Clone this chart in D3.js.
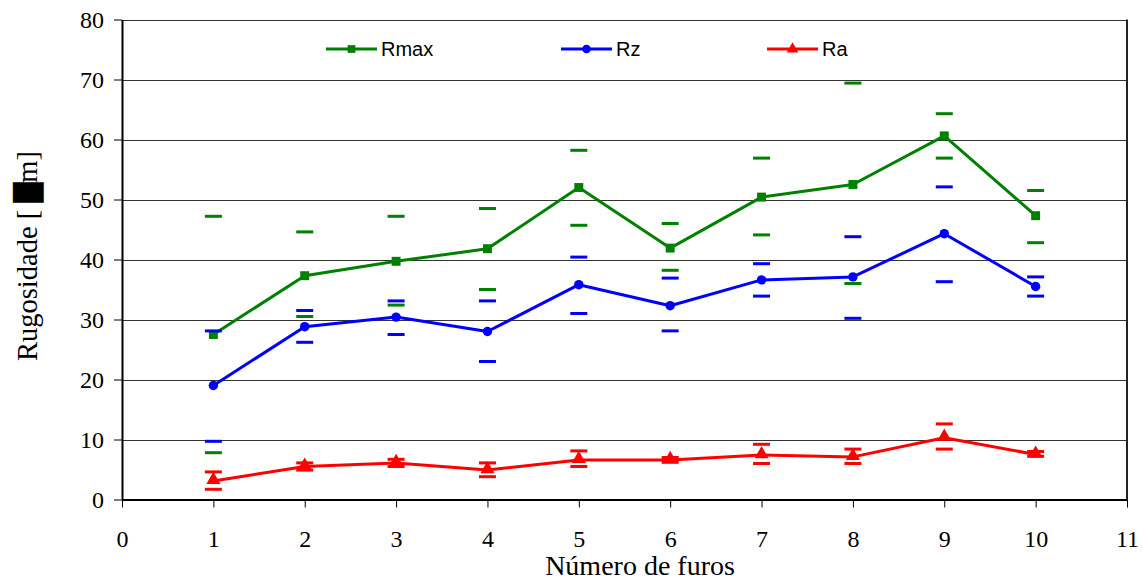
<!DOCTYPE html>
<html>
<head>
<meta charset="utf-8">
<script src="https://cdn.jsdelivr.net/npm/d3@7"></script>
<style>
  body { margin: 0; background: #fff; }
  svg { display: block; }
</style>
</head>
<body>
<svg id="chart" width="1143" height="581"></svg>
<script>
// ---- Data ----
const holes   = [1, 2, 3, 4, 5, 6, 7, 8, 9, 10];
const rmax    = [27.5, 37.3, 39.7, 41.8, 52.0, 41.9, 50.4, 52.5, 60.6, 47.3];
const rmaxHi  = [47.2, 44.6, 47.2, 48.5, 58.2, 46.0, 56.9, 69.4, 64.3, 51.5];
const rmaxLo  = [7.8, 30.5, 32.4, 35.0, 45.7, 38.2, 44.1, 36.0, 56.9, 42.8];
const rz      = [19.0, 28.8, 30.4, 28.0, 35.8, 32.3, 36.6, 37.1, 44.3, 35.5];
const rzHi    = [28.1, 31.5, 33.1, 33.1, 40.4, 36.9, 39.3, 43.8, 52.1, 37.1];
const rzLo    = [9.7, 26.2, 27.5, 23.0, 31.0, 28.1, 33.9, 30.2, 36.3, 33.9];
const ra      = [3.1, 5.5, 6.1, 4.9, 6.6, 6.6, 7.4, 7.1, 10.3, 7.5];
const raHi    = [4.6, 6.1, 6.7, 6.1, 8.1, 7.0, 9.2, 8.4, 12.6, 8.0];
const raLo    = [1.7, 4.9, 5.5, 3.8, 5.5, 6.2, 6.0, 6.0, 8.4, 7.2];
const seriesNames = ["Rmax", "Rz", "Ra"];
const xTicks = [0, 1, 2, 3, 4, 5, 6, 7, 8, 9, 10, 11];
const yTicks = [0, 10, 20, 30, 40, 50, 60, 70, 80];
const xTitle = "Número de furos";
const yTitleA = "Rugosidade [ ";
const yTitleB = "\u2588";
const yTitleC = "m]";

// ---- Layout ----
const svg = d3.select("#chart");
const pLeft = 122, pRight = 1127, pTop = 19.5, pBottom = 499.5;
const x = d3.scaleLinear().domain([0, 11]).range([pLeft, pRight]);
const y = d3.scaleLinear().domain([0, 80]).range([pBottom, pTop]);
const serif = "'Liberation Serif', 'Times New Roman', serif";
const sans = "'Liberation Sans', Arial, sans-serif";

// gridlines
svg.append("g").selectAll("line").data(yTicks.filter(d => d > 0)).join("line")
  .attr("x1", pLeft).attr("x2", pRight)
  .attr("y1", d => Math.round(y(d)) + 0.5).attr("y2", d => Math.round(y(d)) + 0.5)
  .attr("stroke", "#333").attr("stroke-width", 1);

// right border
svg.append("line").attr("x1", pRight).attr("x2", pRight).attr("y1", pTop).attr("y2", pBottom)
  .attr("stroke", "#222").attr("stroke-width", 2);

// axes
const yAxis = svg.append("g").attr("transform", `translate(${pLeft},0)`)
  .call(d3.axisLeft(y).tickValues(yTicks).tickSize(8).tickPadding(10).tickSizeOuter(0));
const xAxis = svg.append("g").attr("transform", `translate(0,${pBottom})`)
  .call(d3.axisBottom(x).tickValues(xTicks).tickSize(8).tickPadding(12).tickSizeOuter(0));
[yAxis, xAxis].forEach(a => {
  a.attr("font-family", serif).attr("font-size", 24);
  a.select(".domain").attr("stroke", "#000").attr("stroke-width", 2);
  a.selectAll(".tick line").attr("stroke", "#000").attr("stroke-width", 1);
  a.selectAll(".tick text").attr("font-family", serif).attr("font-size", 24).attr("fill", "#000");
});
yAxis.selectAll(".tick text").attr("dy", "0.34em");
xAxis.selectAll(".tick text").attr("y", 0).attr("dy", 0).attr("transform", "translate(0,47.5)");

// axis titles
svg.append("text").attr("x", 640).attr("y", 575).attr("text-anchor", "middle")
  .attr("font-family", serif).attr("font-size", 28).attr("fill", "#000").text(xTitle);
const yt = svg.append("text").attr("transform", "translate(37,256) rotate(-90)")
  .attr("text-anchor", "middle").attr("font-family", serif).attr("font-size", 28.5).attr("fill", "#000");
yt.append("tspan").text(yTitleA);
yt.append("tspan").attr("font-family", "'DejaVu Sans', sans-serif").attr("font-size", 26).text(yTitleB);
yt.append("tspan").text(yTitleC);

// series
const series = [
  { name: seriesNames[0], mean: rmax, hi: rmaxHi, lo: rmaxLo, color: "#008000", marker: "square" },
  { name: seriesNames[1], mean: rz,   hi: rzHi,   lo: rzLo,   color: "#0000FF", marker: "circle" },
  { name: seriesNames[2], mean: ra,   hi: raHi,   lo: raLo,   color: "#FF0000", marker: "triangle" }
];
const symType = m => m === "square" ? d3.symbolSquare : m === "circle" ? d3.symbolCircle : d3.symbolTriangle;
const symSize = m => m === "square" ? 80 : m === "circle" ? 70 : 85;

const line = d3.line().x(d => x(d[0])).y(d => y(d[1]));
series.forEach(s => {
  const g = svg.append("g");
  const pts = holes.map((h, i) => [h, s.mean[i]]);
  const caps = holes.flatMap((h, i) => [[h, s.hi[i]], [h, s.lo[i]]]);
  g.selectAll("line.cap").data(caps).join("line").attr("class", "cap")
    .attr("x1", d => x(d[0]) - 8.5).attr("x2", d => x(d[0]) + 8.5)
    .attr("y1", d => y(d[1])).attr("y2", d => y(d[1]))
    .attr("stroke", s.color).attr("stroke-width", 3);
  g.append("path").datum(pts).attr("d", line).attr("fill", "none")
    .attr("stroke", s.color).attr("stroke-width", 3).attr("stroke-linejoin", "round");
  g.selectAll("path.mk").data(pts).join("path").attr("class", "mk")
    .attr("transform", d => `translate(${x(d[0])},${y(d[1]) + (s.marker === "triangle" ? -1 : 0)})`)
    .attr("d", d3.symbol(symType(s.marker), symSize(s.marker))()).attr("fill", s.color);
});

// legend
const legendX = [326, 561, 767];
series.forEach((s, i) => {
  const g = svg.append("g").attr("transform", `translate(${legendX[i]},49)`);
  g.append("line").attr("x1", 0).attr("x2", 51).attr("y1", 0).attr("y2", 0)
    .attr("stroke", s.color).attr("stroke-width", 3);
  g.append("path").attr("transform", "translate(25.5,0)")
    .attr("d", d3.symbol(symType(s.marker), 60)())
    .attr("fill", s.color);
  g.append("text").attr("x", 55).attr("y", 7).attr("font-family", sans).attr("font-size", 20)
    .attr("fill", "#000").text(s.name);
});
</script>
</body>
</html>
